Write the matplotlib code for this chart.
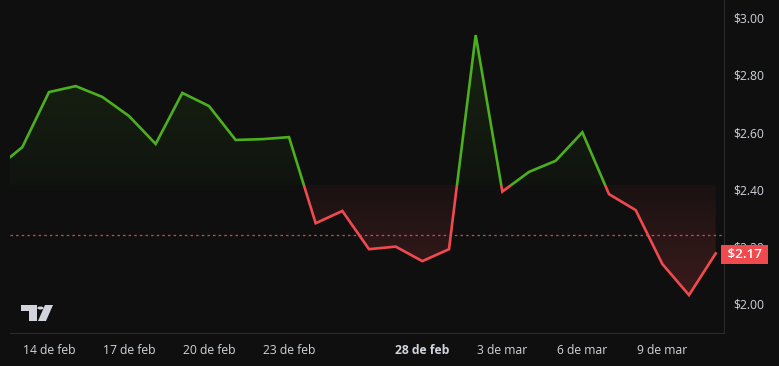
import numpy as np
import pandas as pd
import matplotlib
matplotlib.use("Agg")
import matplotlib.pyplot as plt
import matplotlib.dates as mdates
from matplotlib.path import Path
from matplotlib.patches import Rectangle, Circle, Polygon
from matplotlib.transforms import blended_transform_factory

# price data (daily closes)
dates = ["2025-02-12", "2025-02-13", "2025-02-14", "2025-02-15", "2025-02-16",
         "2025-02-17", "2025-02-18", "2025-02-19", "2025-02-20", "2025-02-21",
         "2025-02-22", "2025-02-23", "2025-02-24", "2025-02-25", "2025-02-26",
         "2025-02-27", "2025-02-28", "2025-03-01", "2025-03-02", "2025-03-03",
         "2025-03-04", "2025-03-05", "2025-03-06", "2025-03-07", "2025-03-08",
         "2025-03-09", "2025-03-10", "2025-03-11"]
prices = [2.470, 2.547, 2.740, 2.761, 2.723, 2.656, 2.558, 2.737, 2.691, 2.572,
          2.575, 2.582, 2.280, 2.323, 2.189, 2.198, 2.147, 2.189, 2.940, 2.391,
          2.460, 2.499, 2.599, 2.382, 2.326, 2.137, 2.028, 2.174]

baseline = 2.415
ref_line = 2.238
last_price = 2.17

tick_dates = ["2025-02-14", "2025-02-17", "2025-02-20", "2025-02-23",
              "2025-02-28", "2025-03-03", "2025-03-06", "2025-03-09"]
tick_labels = ["14 de feb", "17 de feb", "20 de feb", "23 de feb",
               "28 de feb", "3 de mar", "6 de mar", "9 de mar"]
bold_labels = ["28 de feb"]
y_ticks = [2.00, 2.20, 2.40, 2.60, 2.80, 3.00]

BG = "#0f0f0f"
GREEN = "#4caf1e"
RED = "#f04a4e"
TEXT = "#d1d4dc"

plt.rcParams["font.family"] = ["Open Sans", "DejaVu Sans"]

x = mdates.date2num(pd.to_datetime(dates))
y = np.array(prices)

W, H = 779, 366
fig = plt.figure(figsize=(W / 100, H / 100), dpi=100, facecolor=BG)
ax = fig.add_axes([10 / W, 33 / H, 714 / W, 333 / H], facecolor=BG)

x_lo = mdates.date2num(pd.Timestamp("2025-02-14")) - 39 / 26.667
x_hi = mdates.date2num(pd.Timestamp("2025-02-14")) + 675 / 26.667
y_lo, y_hi = 1.895, 3.063

# gradient fills above / below the baseline
def gradient_fill(where_mask, y0, y1, color, a0, a1):
    poly = ax.fill_between(x, y, baseline, where=where_mask, interpolate=True,
                           color="none", linewidth=0)
    path = Path.make_compound_path(*poly.get_paths())
    rgb = matplotlib.colors.to_rgb(color)
    img = np.zeros((200, 1, 4))
    img[:, :, :3] = rgb
    img[:, 0, 3] = np.linspace(a0, a1, 200)
    im = ax.imshow(img, extent=[x_lo, x_hi, y0, y1], origin="lower",
                   aspect="auto", interpolation="bilinear", zorder=1)
    im.set_clip_path(path, transform=ax.transData)

gradient_fill(y >= baseline, baseline, y_hi, GREEN, 0.03, 0.17)
gradient_fill(y <= baseline, y_lo, baseline, RED, 0.25, 0.05)

# line, coloured by side of the baseline
for color, y0, y1 in [(GREEN, baseline, y_hi + 1), (RED, y_lo - 1, baseline)]:
    ln, = ax.plot(x, y, color=color, lw=1.9, zorder=3, solid_joinstyle="miter")
    clip = Rectangle((x_lo, y0), x_hi - x_lo, y1 - y0, transform=ax.transData)
    ln.set_clip_path(clip)

ax.axhline(ref_line, color=RED, lw=0.9, ls=(0, (2, 2.5)), alpha=0.9, zorder=2)

ax.set_xlim(x_lo, x_hi)
ax.set_ylim(y_lo, y_hi)

ax.set_xticks(mdates.date2num(pd.to_datetime(tick_dates)))
ax.set_xticklabels(tick_labels)
for lbl in ax.get_xticklabels():
    if lbl.get_text() in bold_labels:
        lbl.set_fontweight("bold")
        lbl.set_color("#ffffff")
ax.tick_params(axis="x", length=0, pad=8, labelsize=8.7, colors=TEXT)

ax.yaxis.tick_right()
ax.set_yticks(y_ticks)
ax.set_yticklabels([f"${v:.2f}" for v in y_ticks])
ax.tick_params(axis="y", length=0, pad=7, labelsize=8.7, colors=TEXT)

for side in ["top", "left"]:
    ax.spines[side].set_visible(False)
ax.spines["bottom"].set_color("#2a2a2a")
ax.spines["right"].set_color("#2a2a2a")

# last price tag
tr = blended_transform_factory(ax.transAxes, ax.transData)
ax.text(1.0, last_price, f" ${last_price:.2f} ", transform=tr, ha="left", va="center",
        color="white", fontsize=9.6, fontweight="semibold", clip_on=False, zorder=10,
        bbox=dict(boxstyle="square,pad=0.22", fc=RED, ec="none"))

# little tradingview logo in the corner
def px(px_x, px_y):
    return (px_x / W, 1 - px_y / H)

logo = "#d1d4dc"
fig.patches.append(Polygon([px(21, 305), px(37, 305), px(37, 321), px(29, 321),
                            px(29, 311), px(21, 311)], closed=True,
                           transform=fig.transFigure, fc=logo, ec="none"))
fig.patches.append(Circle(px(40.5, 308), 3.2 / W, transform=fig.transFigure,
                          fc=logo, ec="none"))
fig.patches.append(Polygon([px(45, 305), px(53, 305), px(46, 321), px(38, 321)],
                           closed=True, transform=fig.transFigure, fc=logo, ec="none"))

fig.savefig("out.png", dpi=100, facecolor=BG)
